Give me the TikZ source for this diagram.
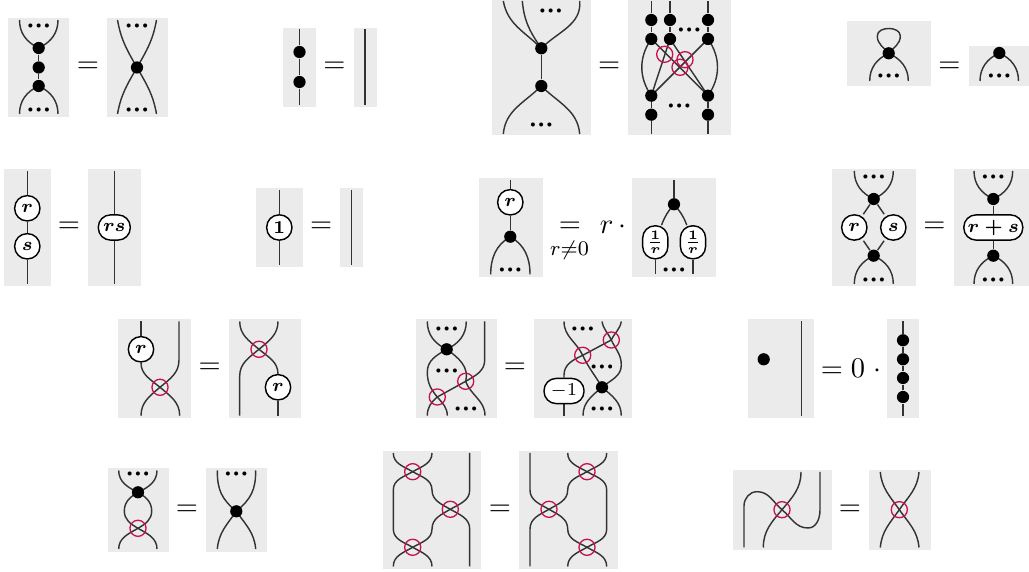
\documentclass[tikz,border=0pt]{standalone}
\usepackage{amsmath,amssymb}
\usetikzlibrary{backgrounds}
\definecolor{panelgray}{HTML}{EBEBEB}
\definecolor{crossred}{HTML}{C8104E}
\newcommand{\bcdots}{$\boldsymbol{{\cdot}{\cdot}{\cdot}}$}
\tikzset{
    panel/.style={fill=panelgray},
    strand/.style={draw=black!80,line width=.55pt},
    dotnode/.style={circle,fill=black,inner sep=0pt,minimum size=4.7pt},
    crossnode/.style={circle,draw=crossred,line width=.5pt,inner sep=0pt,minimum size=6.2pt},
    tokennode/.style={draw,fill=white,line width=.55pt,rounded corners=4.7pt,inner sep=0pt,minimum height=9.7pt,minimum width=9.7pt,font=\scriptsize},
    dotsnode/.style={inner sep=0pt,yshift=-.5pt},
    eqnode/.style={inner sep=0pt,font=\fontsize{11}{13}\selectfont},
}

\begin{document}
\begin{tikzpicture}[x=.385pt,y=-.385pt]
                \useasboundingbox (0,0) rectangle (1029,572);
                \node[dotnode] (p1u) at (38.7,48) {};
                \node[dotnode] (p1m) at (38.7,67.5) {};
                \node[dotnode] (p1l) at (38.7,86) {};
                \node[dotsnode] (p1dt) at (38.7,25) {\bcdots};
                \node[dotsnode] (p1db) at (38.7,109) {\bcdots};
                \coordinate (p1tl) at (19.5,20); \coordinate (p1tr) at (58,20);
                \coordinate (p1bl) at (19.5,114); \coordinate (p1br) at (58,114);
                \node[eqnode] (eq1) at (88,67.5) {$=$};
                \node[dotnode] (p2m) at (137,67.5) {};
                \node[dotsnode] (p2dt) at (137,25) {\bcdots};
                \node[dotsnode] (p2db) at (137,109) {\bcdots};
                \coordinate (p2tl) at (117.5,20); \coordinate (p2tr) at (156.5,20);
                \coordinate (p2bl) at (117.5,114); \coordinate (p2br) at (156.5,114);

                \node[dotnode] (p3u) at (299.5,52) {};
                \node[dotnode] (p3l) at (299.5,82) {};
                \coordinate (p3t) at (299.5,29.5); \coordinate (p3b) at (299.5,105);
                \node[eqnode] (eq2) at (334.5,67.5) {$=$};
                \coordinate (p4t) at (365,29.5); \coordinate (p4b) at (365,105);

                \node[dotnode] (p5u) at (541.3,48.3) {};
                \node[dotnode] (p5l) at (541.3,86) {};
                \node[dotsnode] (p5dt) at (550.7,10) {\bcdots};
                \node[dotsnode] (p5db) at (541.3,124.5) {\bcdots};
                \coordinate (p5ta) at (503.3,1); \coordinate (p5tb) at (522.3,1); \coordinate (p5tc) at (579.7,1);
                \coordinate (p5bl) at (503.3,134); \coordinate (p5br) at (579.7,134);
                \node[eqnode] (eq3) at (609.3,67.5) {$=$};
                \node[dotnode] (p6a1) at (651.3,20) {};
                \node[dotnode] (p6b1) at (670,20) {};
                \node[dotnode] (p6c1) at (708,20) {};
                \node[dotnode] (p6a2) at (651.3,39) {};
                \node[dotnode] (p6b2) at (670,39) {};
                \node[dotnode] (p6c2) at (708,39) {};
                \node[dotnode] (p6a3) at (651.3,95.7) {};
                \node[dotnode] (p6c3) at (708,95.7) {};
                \node[dotnode] (p6a4) at (651.3,114.7) {};
                \node[dotnode] (p6c4) at (708,114.7) {};
                \node[crossnode] (p6x1) at (664.7,54.3) {};
                \node[crossnode] (p6x2) at (685,59.7) {};
                \node[crossnode] (p6x3) at (680,67.3) {};
                \node[dotsnode] (p6dt) at (689.3,29) {\bcdots};
                \node[dotsnode] (p6db) at (679.3,105.5) {\bcdots};
                \coordinate (p6ta) at (651.3,1); \coordinate (p6tb) at (670,1); \coordinate (p6tc) at (708,1);
                \coordinate (p6ba) at (651.3,134); \coordinate (p6bc) at (708,134);

                \node[dotnode] (p7d) at (888.7,53.3) {};
                \node[dotsnode] (p7db) at (888.7,75.5) {\bcdots};
                \coordinate (p7top) at (888.7,28.5);
                \coordinate (p7tl) at (877.3,36); \coordinate (p7tr) at (900.3,36);
                \coordinate (p7bl) at (869.7,81); \coordinate (p7br) at (908.3,81);
                \node[eqnode] (eq4) at (949.5,67.5) {$=$};
                \node[dotnode] (p8d) at (999.3,53) {};
                \node[dotsnode] (p8db) at (999.3,75.5) {\bcdots};
                \coordinate (p8bl) at (980,81); \coordinate (p8br) at (1018.5,81);

                \node[tokennode] (p9r) at (27.3,208.3) {$\boldsymbol{r}$};
                \node[tokennode] (p9s) at (27.3,246.3) {$\boldsymbol{s}$};
                \coordinate (p9t) at (27.3,171); \coordinate (p9b) at (27.3,284);
                \node[eqnode] (eq5) at (69,227.5) {$=$};
                \node[tokennode,minimum width=12.3pt] (p10r) at (114.3,227.5) {$\boldsymbol{rs}$};
                \coordinate (p10t) at (114.3,171); \coordinate (p10b) at (114.3,284);

                \node[tokennode] (p11r) at (279.3,227.5) {$\boldsymbol{1}$};
                \coordinate (p11t) at (279.3,190); \coordinate (p11b) at (279.3,265);
                \node[eqnode] (eq6) at (321.3,227.5) {$=$};
                \coordinate (p12t) at (351.5,190); \coordinate (p12b) at (351.5,265);

                \node[tokennode] (p13r) at (510.3,202.3) {$\boldsymbol{r}$};
                \node[dotnode] (p13d) at (510.3,236.7) {};
                \node[dotsnode] (p13db) at (510.3,269) {\bcdots};
                \coordinate (p13t) at (510.3,180);
                \coordinate (p13bl) at (490.7,274.5); \coordinate (p13br) at (530,274.5);
                \node[eqnode] (eq7) at (570,227.5) {$=$};
                \node[inner sep=0pt,font=\footnotesize] (eq7c) at (569.5,250) {$r{\neq}0$};
                \node[eqnode] (p14lab) at (613,227.5) {$r\,\cdot$};
                \node[dotnode] (p14d) at (674,204.3) {};
                \node[tokennode,minimum height=12.7pt] (p14a) at (655.3,242.3) {$\boldsymbol{\frac{1}{r}}$};
                \node[tokennode,minimum height=12.7pt] (p14b) at (693,242.3) {$\boldsymbol{\frac{1}{r}}$};
                \node[dotsnode] (p14db) at (674,269) {\bcdots};
                \coordinate (p14t) at (674,180);
                \coordinate (p14bl) at (655.3,274.5); \coordinate (p14br) at (693,274.5);

                \node[dotnode] (p15u) at (873.7,199) {};
                \node[dotnode] (p15l) at (873.7,255.7) {};
                \node[tokennode] (p15r) at (854.3,227.5) {$\boldsymbol{r}$};
                \node[tokennode] (p15s) at (893.3,227.5) {$\boldsymbol{s}$};
                \node[dotsnode] (p15dt) at (873.7,176) {\bcdots};
                \node[dotsnode] (p15db) at (873.7,279) {\bcdots};
                \coordinate (p15tl) at (854.3,171); \coordinate (p15tr) at (893.3,171);
                \coordinate (p15bl) at (854.3,284); \coordinate (p15br) at (893.3,284);
                \node[eqnode] (eq8) at (934.3,227.5) {$=$};
                \node[dotnode] (p16u) at (993.3,199) {};
                \node[dotnode] (p16l) at (993.3,255.7) {};
                \node[tokennode,minimum width=22.7pt] (p16r) at (993.3,227.5) {$\boldsymbol{r+s}$};
                \node[dotsnode] (p16dt) at (993.3,176) {\bcdots};
                \node[dotsnode] (p16db) at (993.3,279) {\bcdots};
                \coordinate (p16tl) at (974,171); \coordinate (p16tr) at (1012.7,171);
                \coordinate (p16bl) at (974,284); \coordinate (p16br) at (1012.7,284);

                \node[tokennode] (p17r) at (141,349.3) {$\boldsymbol{r}$};
                \node[crossnode] (p17x) at (160,387.3) {};
                \coordinate (p17ta) at (141,321.5); \coordinate (p17tb) at (179,321.5); \coordinate (p17m) at (179,360);
                \coordinate (p17bl) at (141,415.7); \coordinate (p17br) at (179.7,415.7);
                \node[eqnode] (eq9) at (209.7,368) {$=$};
                \node[crossnode] (p18x) at (259,349.3) {};
                \node[tokennode] (p18r) at (278,387.3) {$\boldsymbol{r}$};
                \coordinate (p18tl) at (239.7,321.5); \coordinate (p18tr) at (278,321.5); \coordinate (p18m) at (239.7,376);
                \coordinate (p18bl) at (239.7,415.7); \coordinate (p18br) at (278,415.7);

                \node[dotnode] (p19d) at (446.7,349.3) {};
                \node[crossnode] (p19x1) at (437.3,397) {};
                \node[crossnode] (p19x2) at (465.7,381.3) {};
                \node[dotsnode] (p19dt) at (446.7,328.5) {\bcdots};
                \node[dotsnode] (p19dm) at (446.7,370.5) {\bcdots};
                \node[dotsnode] (p19db) at (466,408) {\bcdots};
                \coordinate (p19tl) at (427.3,321.5); \coordinate (p19tr) at (466.3,321.5);
                \coordinate (p19ra) at (484.7,321.5); \coordinate (p19rb) at (484.7,360);
                \coordinate (p19m) at (427.3,372);
                \coordinate (p19ba) at (427.3,415.7); \coordinate (p19bb) at (447.3,415.7); \coordinate (p19bc) at (485,415.7);
                \node[eqnode] (eq10) at (515,368) {$=$};
                \node[crossnode] (p20x1) at (582.7,355.3) {};
                \node[crossnode] (p20x2) at (611.3,340) {};
                \node[dotnode] (p20d) at (602,387.3) {};
                \node[tokennode,minimum width=15.4pt] (p20r) at (564,391) {$-1$};
                \node[dotsnode] (p20dt) at (582.7,328.5) {\bcdots};
                \node[dotsnode] (p20dm) at (602,366) {\bcdots};
                \node[dotsnode] (p20db) at (602,408.5) {\bcdots};
                \coordinate (p20ta) at (564,321.5); \coordinate (p20tb) at (602,321.5); \coordinate (p20tc) at (621.3,321.5);
                \coordinate (p20ml) at (564,375); \coordinate (p20mr) at (621.3,365);
                \coordinate (p20ba) at (564,415.7); \coordinate (p20bb) at (583,415.7); \coordinate (p20bc) at (621.3,415.7);

                \node[dotnode] (p21d) at (763.7,359.3) {};
                \coordinate (p21t) at (801.7,321.5); \coordinate (p21b) at (801.7,415.7);
                \node[eqnode] (p22lab) at (851,368) {$=0\;\cdot$};
                \node[dotnode] (p22a) at (903,340.3) {};
                \node[dotnode] (p22b) at (903,359.3) {};
                \node[dotnode] (p22c) at (903,378) {};
                \node[dotnode] (p22d) at (903,397) {};
                \coordinate (p22t) at (903,321.5); \coordinate (p22e) at (903,415.7);

                \node[dotnode] (p23d) at (138,492.3) {};
                \node[crossnode] (p23x) at (138,528.3) {};
                \node[dotsnode] (p23dt) at (138,473.3) {\bcdots};
                \coordinate (p23tl) at (118.7,470.5); \coordinate (p23tr) at (157,470.5);
                \coordinate (p23ml) at (124.3,511); \coordinate (p23mr) at (151.7,511);
                \coordinate (p23bl) at (118.7,549); \coordinate (p23br) at (157,549);
                \node[eqnode] (eq11) at (187,510) {$=$};
                \node[dotnode] (p24d) at (236.3,511.3) {};
                \node[dotsnode] (p24dt) at (236.3,473.3) {\bcdots};
                \coordinate (p24tl) at (217.3,470.5); \coordinate (p24tr) at (255.7,470.5);
                \coordinate (p24bl) at (217.3,549); \coordinate (p24br) at (255.7,549);

                \node[crossnode] (p25x1) at (412.7,471.7) {};
                \node[crossnode] (p25x2) at (450.3,509.3) {};
                \node[crossnode] (p25x3) at (412.7,547.3) {};
                \coordinate (p25tl) at (393.3,453); \coordinate (p25tm) at (432,453); \coordinate (p25tr) at (469.7,453);
                \coordinate (p25bl) at (393.3,566.5); \coordinate (p25bm) at (432,566.5); \coordinate (p25br) at (469.7,566.5);
                \coordinate (p25la) at (393.3,490); \coordinate (p25lb) at (393.3,529);
                \coordinate (p25ma) at (432,490); \coordinate (p25mb) at (432,529);
                \coordinate (p25ra) at (469.7,490); \coordinate (p25rb) at (469.7,529);
                \node[eqnode] (eq12) at (500,510) {$=$};
                \node[crossnode] (p26x1) at (587,471.7) {};
                \node[crossnode] (p26x2) at (549,509.3) {};
                \node[crossnode] (p26x3) at (587,547.3) {};
                \coordinate (p26tl) at (530,453); \coordinate (p26tm) at (567.7,453); \coordinate (p26tr) at (606.7,453);
                \coordinate (p26bl) at (530,566.5); \coordinate (p26bm) at (567.7,566.5); \coordinate (p26br) at (606.7,566.5);
                \coordinate (p26la) at (530,490); \coordinate (p26lb) at (530,529);
                \coordinate (p26ma) at (567.7,490); \coordinate (p26mb) at (567.7,529);
                \coordinate (p26ra) at (606.7,490); \coordinate (p26rb) at (606.7,529);

                \node[crossnode] (p27x) at (782,509.7) {};
                \coordinate (p27a) at (744,547.5); \coordinate (p27b) at (744,506); \coordinate (p27c) at (757,491.7);
                \coordinate (p27d) at (808,528); \coordinate (p27e) at (820,510); \coordinate (p27f) at (820,472);
                \coordinate (p27tm) at (801,472); \coordinate (p27bm) at (763.3,547.5);
                \node[eqnode] (eq13) at (850,510) {$=$};
                \node[crossnode] (p28x) at (899.3,509.7) {};
                \coordinate (p28tl) at (880.3,472); \coordinate (p28tr) at (919,472);
                \coordinate (p28bl) at (880.3,547.5); \coordinate (p28br) at (919,547.5);

                \begin{pgfonlayer}{background}
                \fill[panel] (8,18) rectangle (69,117);
                \fill[panel] (107,18) rectangle (168,117);
                \fill[panel] (283,28) rectangle (316,107);
                \fill[panel] (354,28) rectangle (377,107);
                \fill[panel] (492,0) rectangle (591,135);
                \fill[panel] (628,0) rectangle (731,135);
                \fill[panel] (847,21) rectangle (931,86);
                \fill[panel] (969,46) rectangle (1029,86);
                \fill[panel] (4,169) rectangle (51,286);
                \fill[panel] (88,169) rectangle (141,286);
                \fill[panel] (256,188) rectangle (303,267);
                \fill[panel] (340,188) rectangle (363,267);
                \fill[panel] (479,178) rectangle (543,276.7);
                \fill[panel] (632,178) rectangle (716,276.7);
                \fill[panel] (832,169) rectangle (916,286);
                \fill[panel] (954,169) rectangle (1029,286);
                \fill[panel] (118,319) rectangle (191,418);
                \fill[panel] (229,319) rectangle (301,418);
                \fill[panel] (416,319) rectangle (497,418);
                \fill[panel] (534,319) rectangle (632,418);
                \fill[panel] (748,319) rectangle (814,418);
                \fill[panel] (887,319) rectangle (919,418);
                \fill[panel] (108,468) rectangle (169,552);
                \fill[panel] (206,468) rectangle (267,552);
                \fill[panel] (383,451) rectangle (481,569);
                \fill[panel] (519,451) rectangle (618,569);
                \fill[panel] (733,470) rectangle (832,550);
                \fill[panel] (869,470) rectangle (931,550);

                \draw[strand] (p1tl) to[out=-90,in=155] (p1u.center);
                \draw[strand] (p1tr) to[out=-90,in=25] (p1u.center);
                \draw[strand] (p1u) -- (p1m) -- (p1l);
                \draw[strand] (p1bl) to[out=90,in=-155] (p1l.center);
                \draw[strand] (p1br) to[out=90,in=-25] (p1l.center);
                \draw[strand] (p2tl) to[out=-80,in=120] (p2m.center);
                \draw[strand] (p2tr) to[out=-100,in=60] (p2m.center);
                \draw[strand] (p2bl) to[out=80,in=-120] (p2m.center);
                \draw[strand] (p2br) to[out=100,in=-60] (p2m.center);

                \draw[strand] (p3t) -- (p3u) -- (p3l) -- (p3b);
                \draw[strand] (p4t) -- (p4b);

                \draw[strand] (p5ta) to[out=-80,in=135] (p5u.center);
                \draw[strand] (p5tb) to[out=-85,in=125] (p5u.center);
                \draw[strand] (p5tc) to[out=-85,in=45] (p5u.center);
                \draw[strand] (p5u) -- (p5l);
                \draw[strand] (p5bl) to[out=85,in=-135] (p5l.center);
                \draw[strand] (p5br) to[out=95,in=-45] (p5l.center);
                \draw[strand] (p6ta) -- (p6a1) -- (p6a2);
                \draw[strand] (p6tb) -- (p6b1) -- (p6b2);
                \draw[strand] (p6tc) -- (p6c1) -- (p6c2);
                \draw[strand] (p6a3) -- (p6a4) -- (p6ba);
                \draw[strand] (p6c3) -- (p6c4) -- (p6bc);
                \draw[strand] (p6a2.center) to[out=-125,in=125] (p6a3.center);
                \draw[strand] (p6c2.center) to[out=-55,in=55] (p6c3.center);
                \draw[strand] (p6a2.center) -- (p6c3.center);
                \draw[strand] (p6b2.center) -- (p6a3.center);
                \draw[strand] (p6b2.center) -- (p6c3.center);
                \draw[strand] (p6c2.center) -- (p6a3.center);

                \draw[strand] (p7d.center) to[out=130,in=-90] (p7tl) to[out=90,in=180] (p7top) to[out=0,in=90] (p7tr) to[out=-90,in=50] (p7d.center);
                \draw[strand] (p7bl) to[out=90,in=-155] (p7d.center);
                \draw[strand] (p7br) to[out=90,in=-25] (p7d.center);
                \draw[strand] (p8bl) to[out=90,in=-155] (p8d.center);
                \draw[strand] (p8br) to[out=90,in=-25] (p8d.center);

                \draw[strand] (p9t) -- (p9r) -- (p9s) -- (p9b);
                \draw[strand] (p10t) -- (p10r) -- (p10b);
                \draw[strand] (p11t) -- (p11r) -- (p11b);
                \draw[strand] (p12t) -- (p12b);

                \draw[strand] (p13t) -- (p13r) -- (p13d);
                \draw[strand] (p13bl) to[out=90,in=-150] (p13d.center);
                \draw[strand] (p13br) to[out=90,in=-30] (p13d.center);
                \draw[strand] (p14t) -- (p14d);
                \draw[strand] (p14d.center) to[out=-130,in=70] (p14a.70);
                \draw[strand] (p14d.center) to[out=-50,in=110] (p14b.110);
                \draw[strand] (p14a) -- (p14bl);
                \draw[strand] (p14b) -- (p14br);

                \draw[strand] (p15tl) to[out=-90,in=155] (p15u.center);
                \draw[strand] (p15tr) to[out=-90,in=25] (p15u.center);
                \draw[strand] (p15u) -- (p15r) -- (p15l) -- (p15s) -- (p15u);
                \draw[strand] (p15bl) to[out=90,in=-155] (p15l.center);
                \draw[strand] (p15br) to[out=90,in=-25] (p15l.center);
                \draw[strand] (p16tl) to[out=-90,in=155] (p16u.center);
                \draw[strand] (p16tr) to[out=-90,in=25] (p16u.center);
                \draw[strand] (p16u) -- (p16r) -- (p16l);
                \draw[strand] (p16bl) to[out=90,in=-155] (p16l.center);
                \draw[strand] (p16br) to[out=90,in=-25] (p16l.center);

                \draw[strand] (p17ta) -- (p17r);
                \draw[strand] (p17r.south) to[out=-90,in=140] (p17x.center);
                \draw[strand] (p17tb) -- (p17m) to[out=-90,in=40] (p17x.center);
                \draw[strand] (p17bl) to[out=90,in=-140] (p17x.center);
                \draw[strand] (p17br) to[out=90,in=-40] (p17x.center);
                \draw[strand] (p18tl) to[out=-90,in=140] (p18x.center);
                \draw[strand] (p18tr) to[out=-90,in=40] (p18x.center);
                \draw[strand] (p18x.center) to[out=-140,in=90] (p18m) -- (p18bl);
                \draw[strand] (p18x.center) to[out=-40,in=90] (p18r.north);
                \draw[strand] (p18r) -- (p18br);

                \draw[strand] (p19tl) to[out=-90,in=155] (p19d.center);
                \draw[strand] (p19tr) to[out=-90,in=25] (p19d.center);
                \draw[strand] (p19ra) -- (p19rb) to[out=-90,in=30] (p19x2.center);
                \draw[strand] (p19x2.center) -- (p19x1.center);
                \draw[strand] (p19d.center) to[out=-150,in=90] (p19m) to[out=-90,in=130] (p19x1.center);
                \draw[strand] (p19d.center) to[out=-35,in=75] (p19x2.center);
                \draw[strand] (p19x2.center) to[out=-70,in=90] (p19bc);
                \draw[strand] (p19ba) to[out=90,in=-140] (p19x1.center);
                \draw[strand] (p19bb) to[out=90,in=-50] (p19x1.center);
                \draw[strand] (p20ta) to[out=-90,in=115] (p20x1.center);
                \draw[strand] (p20tb) to[out=-80,in=115] (p20x2.center);
                \draw[strand] (p20tc) to[out=-100,in=65] (p20x2.center);
                \draw[strand] (p20x1.center) -- (p20x2.center);
                \draw[strand] (p20x1.center) to[out=-155,in=90] (p20ml) -- (p20r);
                \draw[strand] (p20r) -- (p20ba);
                \draw[strand] (p20x1.center) to[out=-65,in=120] (p20d.center);
                \draw[strand] (p20x2.center) to[out=-65,in=90] (p20mr) to[out=-90,in=40] (p20d.center);
                \draw[strand] (p20bb) to[out=90,in=-140] (p20d.center);
                \draw[strand] (p20bc) to[out=90,in=-40] (p20d.center);

                \draw[strand] (p21t) -- (p21b);
                \draw[strand] (p22t) -- (p22a) -- (p22b) -- (p22c) -- (p22d) -- (p22e);

                \draw[strand] (p23tl) to[out=-90,in=155] (p23d.center);
                \draw[strand] (p23tr) to[out=-90,in=25] (p23d.center);
                \draw[strand] (p23d.center) to[out=-150,in=90] (p23ml) to[out=-90,in=150] (p23x.center);
                \draw[strand] (p23d.center) to[out=-30,in=90] (p23mr) to[out=-90,in=30] (p23x.center);
                \draw[strand] (p23bl) to[out=90,in=-150] (p23x.center);
                \draw[strand] (p23br) to[out=90,in=-30] (p23x.center);
                \draw[strand] (p24tl) to[out=-90,in=140,looseness=1.1] (p24d.center);
                \draw[strand] (p24tr) to[out=-90,in=40,looseness=1.1] (p24d.center);
                \draw[strand] (p24bl) to[out=85,in=-125] (p24d.center);
                \draw[strand] (p24br) to[out=95,in=-55] (p24d.center);

                \draw[strand] (p25tl) to[out=-90,in=150] (p25x1.center);
                \draw[strand] (p25tm) to[out=-90,in=30] (p25x1.center);
                \draw[strand] (p25x1.center) to[out=-150,in=90] (p25la) -- (p25lb) to[out=-90,in=150] (p25x3.center);
                \draw[strand] (p25x1.center) to[out=-30,in=90] (p25ma) to[out=-90,in=150] (p25x2.center);
                \draw[strand] (p25x2.center) to[out=-150,in=90] (p25mb) to[out=-90,in=30] (p25x3.center);
                \draw[strand] (p25tr) -- (p25ra) to[out=-90,in=30] (p25x2.center);
                \draw[strand] (p25x2.center) to[out=-30,in=90] (p25rb) -- (p25br);
                \draw[strand] (p25bl) to[out=90,in=-150] (p25x3.center);
                \draw[strand] (p25bm) to[out=90,in=-30] (p25x3.center);
                \draw[strand] (p26tm) to[out=-90,in=150] (p26x1.center);
                \draw[strand] (p26tr) to[out=-90,in=30] (p26x1.center);
                \draw[strand] (p26x1.center) to[out=-30,in=90] (p26ra) -- (p26rb) to[out=-90,in=30] (p26x3.center);
                \draw[strand] (p26x1.center) to[out=-150,in=90] (p26ma) to[out=-90,in=30] (p26x2.center);
                \draw[strand] (p26x2.center) to[out=-30,in=90] (p26mb) to[out=-90,in=150] (p26x3.center);
                \draw[strand] (p26tl) -- (p26la) to[out=-90,in=150] (p26x2.center);
                \draw[strand] (p26x2.center) to[out=-150,in=90] (p26lb) -- (p26bl);
                \draw[strand] (p26bm) to[out=90,in=-150] (p26x3.center);
                \draw[strand] (p26br) to[out=90,in=-30] (p26x3.center);

                \draw[strand] (p27a) -- (p27b) to[out=90,in=180] (p27c) to[out=0,in=140] (p27x.center);
                \draw[strand] (p27x.center) to[out=-40,in=180] (p27d) to[out=0,in=-90] (p27e) -- (p27f);
                \draw[strand] (p27tm) to[out=-90,in=50] (p27x.center);
                \draw[strand] (p27bm) to[out=90,in=-130] (p27x.center);
                \draw[strand] (p28tl) to[out=-85,in=125] (p28x.center);
                \draw[strand] (p28tr) to[out=-95,in=55] (p28x.center);
                \draw[strand] (p28bl) to[out=85,in=-125] (p28x.center);
                \draw[strand] (p28br) to[out=95,in=-55] (p28x.center);
                \end{pgfonlayer}
            \end{tikzpicture}
\end{document}
